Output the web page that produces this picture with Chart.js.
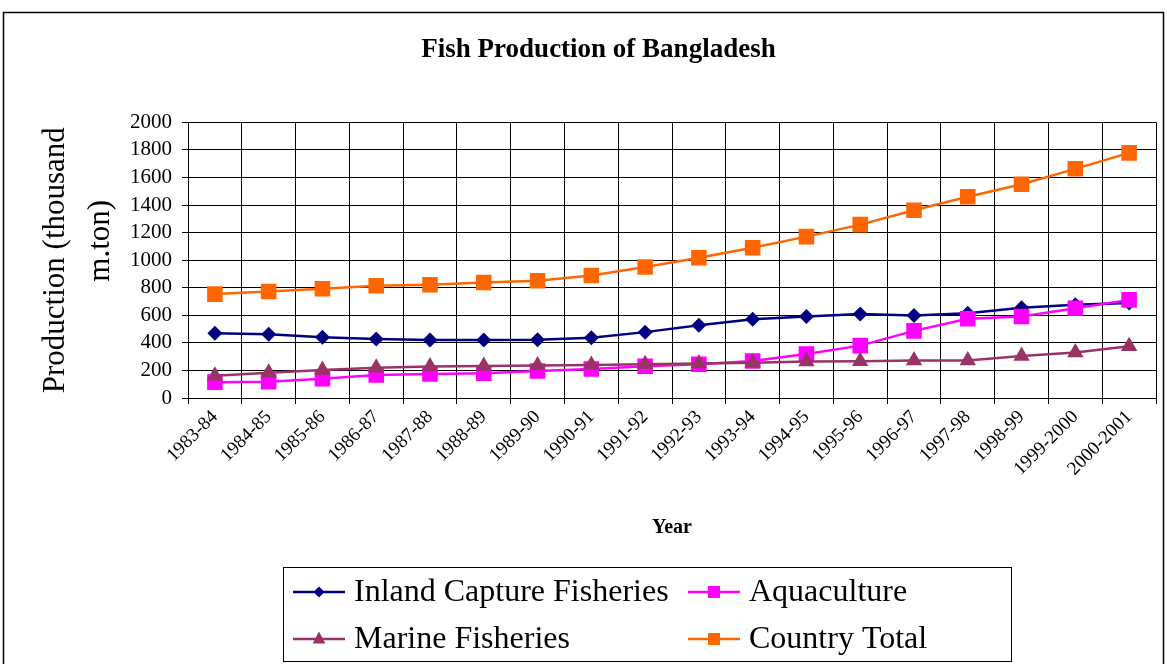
<!DOCTYPE html>
<html>
<head>
<meta charset="utf-8">
<title>Fish Production of Bangladesh</title>
<script src="https://cdn.jsdelivr.net/npm/chart.js@4/dist/chart.umd.min.js"></script>
<style>
  html, body { margin: 0; padding: 0; background: #fff; }
  canvas { display: block; }
</style>
</head>
<body>
<canvas id="chart" width="1167" height="664"></canvas>
<script>
// Fiscal years
const years = ['1983-84', '1984-85', '1985-86', '1986-87', '1987-88', '1988-89', '1989-90',
  '1990-91', '1991-92', '1992-93', '1993-94', '1994-95', '1995-96', '1996-97', '1997-98',
  '1998-99', '1999-2000', '2000-2001'];

// Production, thousand metric tons
const inlandCapture = [470, 462, 440, 428, 420, 420, 422, 438, 478, 528, 572, 591, 609, 598, 615, 655, 677, 689];
const aquaculture   = [115, 118, 140, 167, 175, 180, 196, 210, 230, 245, 268, 320, 380, 487, 575, 592, 652, 712];
const marine        = [162, 184, 204, 220, 228, 233, 236, 240, 245, 250, 255, 265, 266, 273, 273, 305, 330, 375];
const countryTotal  = [754, 773, 793, 814, 822, 838, 851, 889, 950, 1018, 1091, 1171, 1258, 1362, 1461, 1551, 1663, 1779];

const yTicks = [0, 200, 400, 600, 800, 1000, 1200, 1400, 1600, 1800, 2000];

const SERIF = '"Liberation Serif", "Times New Roman", Times, serif';

const seriesStyle = [
  { label: 'Inland Capture Fisheries', data: inlandCapture, color: '#000080', shape: 'rectRot', radius: 7.5 },
  { label: 'Aquaculture',              data: aquaculture,   color: '#FF00FF', shape: 'rect',    radius: 11 },
  { label: 'Marine Fisheries',         data: marine,        color: '#993366', shape: 'triangle', radius: 9.5 },
  { label: 'Country Total',            data: countryTotal,  color: '#FF6600', shape: 'rect',    radius: 11 }
];

const datasets = seriesStyle.map((s, i) => ({
  label: s.label,
  data: s.data,
  borderColor: s.color,
  backgroundColor: s.color,
  borderWidth: 2.5,
  pointStyle: s.shape,
  pointRadius: s.radius,
  pointBorderWidth: 0,
  pointBackgroundColor: s.color,
  tension: 0,
  fill: false,
  // later series sit on top of earlier ones
  order: seriesStyle.length - i
}));

// White page and the outer frame round the whole chart
const framePlugin = {
  id: 'frame',
  beforeDraw(chart) {
    const ctx = chart.ctx;
    ctx.save();
    ctx.fillStyle = '#fff';
    ctx.fillRect(0, 0, chart.width, chart.height);
    ctx.strokeStyle = '#000';
    ctx.lineWidth = 1.5;
    ctx.strokeRect(3.5, 12.5, 1160, 700);
    ctx.restore();
  }
};

function drawMarker(ctx, shape, x, y, size, color) {
  ctx.fillStyle = color;
  ctx.beginPath();
  if (shape === 'rectRot') {
    ctx.moveTo(x, y - size);
    ctx.lineTo(x + size, y);
    ctx.lineTo(x, y + size);
    ctx.lineTo(x - size, y);
  } else if (shape === 'triangle') {
    ctx.moveTo(x, y - size);
    ctx.lineTo(x + size * 0.85, y + size * 0.6);
    ctx.lineTo(x - size * 0.85, y + size * 0.6);
  } else {
    ctx.rect(x - size, y - size, 2 * size, 2 * size);
  }
  ctx.closePath();
  ctx.fill();
}

// Boxed two-column legend under the axis title
const boxLegendPlugin = {
  id: 'boxLegend',
  afterDraw(chart) {
    const ctx = chart.ctx;
    const box = { x: 283.5, y: 567.5, w: 728, h: 94 };
    const cols = [293, 688];
    const rows = [592, 639];
    const lineLen = 52;
    const markerSize = { rectRot: 5.5, rect: 6, triangle: 7.5 };
    ctx.save();
    ctx.strokeStyle = '#000';
    ctx.lineWidth = 1;
    ctx.strokeRect(box.x, box.y, box.w, box.h);
    ctx.font = '32px ' + SERIF;
    ctx.textBaseline = 'middle';
    ctx.textAlign = 'left';
    seriesStyle.forEach((s, i) => {
      const x = cols[i % 2];
      const y = rows[Math.floor(i / 2)];
      ctx.strokeStyle = s.color;
      ctx.lineWidth = 2.5;
      ctx.beginPath();
      ctx.moveTo(x, y);
      ctx.lineTo(x + lineLen, y);
      ctx.stroke();
      drawMarker(ctx, s.shape, x + lineLen / 2, y, markerSize[s.shape], s.color);
      ctx.fillStyle = '#000';
      ctx.fillText(s.label, x + lineLen + 9, y + 1);
    });
    ctx.restore();
  }
};

new Chart(document.getElementById('chart'), {
  type: 'line',
  data: { labels: years, datasets },
  plugins: [framePlugin, boxLegendPlugin],
  options: {
    responsive: false,
    animation: false,
    devicePixelRatio: 1,
    layout: { padding: { left: 36, top: 0, right: 6, bottom: 124 } },
    plugins: {
      legend: { display: false },
      tooltip: { enabled: false },
      title: {
        display: true,
        text: 'Fish Production of Bangladesh',
        color: '#000',
        font: { family: SERIF, size: 27, weight: 'bold', lineHeight: 1.2 },
        padding: { top: 34, bottom: 56 }
      }
    },
    scales: {
      x: {
        type: 'category',
        offset: true,
        grid: { display: true, color: '#000', lineWidth: 1, offset: true, tickLength: 6, drawTicks: true },
        border: { display: true, color: '#000', width: 1 },
        ticks: {
          autoSkip: false,
          minRotation: 45,
          maxRotation: 45,
          padding: 2,
          color: '#000',
          font: { family: SERIF, size: 19 }
        },
        title: {
          display: true,
          text: 'Year',
          color: '#000',
          font: { family: SERIF, size: 20, weight: 'bold', lineHeight: 1.2 },
          padding: { top: 0, bottom: 0 }
        },
        afterFit(scale) { scale.height = 142; }
      },
      y: {
        min: yTicks[0],
        max: yTicks[yTicks.length - 1],
        afterBuildTicks(scale) { scale.ticks = yTicks.map(v => ({ value: v })); },
        grid: { color: '#000', lineWidth: 1, tickLength: 6, drawTicks: true },
        border: { display: true, color: '#000', width: 1 },
        ticks: {
          autoSkip: false,
          padding: 10,
          color: '#000',
          font: { family: SERIF, size: 21, lineHeight: 1 },
          callback: v => String(v)
        },
        title: {
          display: true,
          text: ['Production (thousand', '\u00a0'.repeat(5) + 'm.ton)'],
          color: '#000',
          font: { family: SERIF, size: 31, lineHeight: 1.45 },
          padding: { top: -3, bottom: 0 }
        },
        afterFit(scale) { scale.width = 152; }
      }
    }
  }
});
</script>
</body>
</html>
